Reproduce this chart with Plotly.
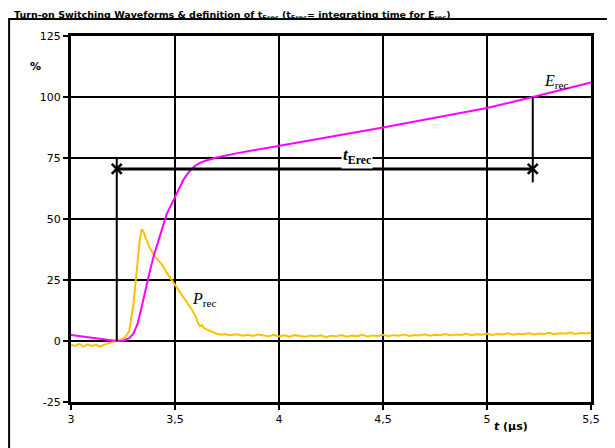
import plotly.graph_objects as go

# time axis in microseconds, values in %
e_t = [3.0, 3.1, 3.2, 3.22, 3.25, 3.28, 3.30, 3.32, 3.34, 3.36, 3.38, 3.40, 3.42, 3.44,
       3.46, 3.48, 3.50, 3.52, 3.54, 3.56, 3.58, 3.60, 3.62, 3.65, 3.70, 3.8, 3.9, 4.0,
       4.25, 4.5, 4.75, 5.0, 5.22, 5.5]
e_rec = [2.5, 1.4, 0.2, 0.0, 0.1, 1.2, 3.0, 7, 14, 22, 29, 35.5, 41, 47,
         52, 55.5, 59, 62.5, 66, 68.5, 70.5, 72, 73, 74, 75.2, 77, 78.5, 80,
         83.5, 87.5, 91.5, 95.5, 100, 106]

p_t = [3.00, 3.02, 3.04, 3.06, 3.08, 3.10, 3.12, 3.14, 3.16, 3.18, 3.20, 3.22, 3.24, 3.26,
       3.28, 3.30, 3.31, 3.32, 3.33, 3.34, 3.35, 3.36, 3.38, 3.40, 3.42, 3.44, 3.46, 3.48,
       3.50, 3.52, 3.54, 3.56, 3.58, 3.60, 3.61, 3.62, 3.63, 3.64, 3.66, 3.68, 3.70, 3.72,
       3.74, 3.76, 3.78, 3.80, 3.825, 3.85, 3.875, 3.90, 3.925, 3.95, 3.975, 4.00, 4.025,
       4.05, 4.075, 4.10, 4.125, 4.15, 4.175, 4.20, 4.225, 4.25, 4.275, 4.30, 4.325, 4.35,
       4.375, 4.40, 4.425, 4.45, 4.475, 4.50, 4.525, 4.55, 4.575, 4.60, 4.625, 4.65, 4.675,
       4.70, 4.725, 4.75, 4.775, 4.80, 4.825, 4.85, 4.875, 4.90, 4.925, 4.95, 4.975, 5.00,
       5.025, 5.05, 5.075, 5.10, 5.125, 5.15, 5.175, 5.20, 5.225, 5.25, 5.275, 5.30, 5.325,
       5.35, 5.375, 5.40, 5.425, 5.45, 5.475, 5.50]
p_rec = [-1.5, -2.0, -1.2, -2.2, -1.4, -2.0, -1.6, -2.3, -1.5, -1.0, -0.3, 0.2, 0.6, 1.5,
         4.0, 15, 24, 33, 41, 45.8, 44.5, 42, 38, 35, 33, 31, 28, 25.5,
         23, 20.5, 18, 16, 13, 10, 7.5, 6.0, 6.5, 5.2, 4.4, 3.5, 3.0, 2.6,
         2.9, 2.4, 2.5, 2.8, 2.2, 2.6, 2.1, 2.7, 2.3, 2.0, 2.5, 1.9, 2.3,
         1.8, 2.4, 2.0, 1.7, 2.2, 1.9, 2.3, 1.6, 2.1, 1.9, 2.4, 1.8, 2.2,
         2.0, 2.5, 1.9, 2.3, 2.1, 2.6, 2.0, 2.4, 2.2, 2.7, 2.1, 2.5, 2.3,
         2.8, 2.2, 2.6, 2.4, 2.9, 2.3, 2.7, 2.5, 3.0, 2.4, 2.8, 2.6, 3.1,
         2.5, 2.9, 2.7, 3.2, 2.6, 3.0, 2.8, 3.3, 2.7, 3.1, 2.9, 3.4, 2.8,
         3.2, 3.0, 3.5, 2.9, 3.3, 3.1, 3.4]

# t_Erec definition: start, end, arrow level
t_start, t_end = 3.22, 5.22
arrow_level = 70.5
left_mark = [0, 75]
right_mark = [65, 100]

x_ticks = [3, 3.5, 4, 4.5, 5, 5.5]
x_labels = ["3", "3,5", "4", "4,5", "5", "5,5"]
y_ticks = [-25, 0, 25, 50, 75, 100, 125]
y_labels = ["-25", "0", "25", "50", "75", "100", "125"]

fig = go.Figure()

fig.add_trace(go.Scatter(x=p_t, y=p_rec, mode="lines",
                         line=dict(color="#FFC000", width=2), showlegend=False))
fig.add_trace(go.Scatter(x=e_t, y=e_rec, mode="lines",
                         line=dict(color="#FF00FF", width=2), showlegend=False))

# vertical marker lines
fig.add_trace(go.Scatter(x=[t_start, t_start], y=left_mark, mode="lines",
                         line=dict(color="black", width=2), showlegend=False))
fig.add_trace(go.Scatter(x=[t_end, t_end], y=right_mark, mode="lines",
                         line=dict(color="black", width=2), showlegend=False))
# horizontal t_Erec line with x markers
fig.add_trace(go.Scatter(x=[t_start, t_end], y=[arrow_level, arrow_level], mode="lines+markers",
                         line=dict(color="black", width=3),
                         marker=dict(symbol="x-thin", size=10, line=dict(color="black", width=2.5)),
                         showlegend=False))

serif = "Liberation Serif"
fig.add_annotation(x=4.375, y=75, xref="x", yref="y",
                   text="<b><i>t</i></b><b><sub>Erec</sub></b>", showarrow=False,
                   font=dict(family=serif, size=17, color="black"),
                   bgcolor="white", borderpad=1, yshift=2)
fig.add_annotation(x=5.33, y=106, text="<i>E</i><sub>rec</sub>", showarrow=False,
                   font=dict(family=serif, size=16, color="black"), yshift=1)
fig.add_annotation(x=3.64, y=17, text="<i>P</i><sub>rec</sub>", showarrow=False,
                   font=dict(family=serif, size=16, color="black"))

# title, axis labels
fig.add_annotation(x=-0.1135, y=1.055, xref="paper", yref="paper", xanchor="left", yanchor="middle",
                   text="<b>Turn-on Switching Waveforms &amp; definition of t<sub>Erec</sub> "
                        "(t<sub>Erec</sub>= integrating time for E<sub>rec</sub>)</b>",
                   showarrow=False, font=dict(family="DejaVu Sans", size=9.5, color="black"))
fig.add_annotation(x=-0.083, y=0.94, xref="paper", yref="paper", text="<b>%</b>",
                   showarrow=False, font=dict(family="DejaVu Sans", size=11, color="black"))
fig.add_annotation(x=0.883, y=-0.09, xref="paper", yref="paper",
                   text="<b><i>t</i> (µs)</b>", showarrow=False,
                   font=dict(family="DejaVu Sans", size=11, color="black"))

# outer frame
fig.add_shape(type="rect", xref="paper", yref="paper", x0=-0.119, x1=1.0365, y0=-0.3, y1=1.0464,
              line=dict(color="black", width=2), layer="below")

fig.update_xaxes(range=[3, 5.5], tickvals=x_ticks, ticktext=x_labels,
                 showgrid=True, gridcolor="black", gridwidth=2,
                 showline=True, linecolor="black", linewidth=3, mirror=True,
                 ticks="outside", ticklen=5, tickwidth=2, tickcolor="black",
                 zeroline=False, tickfont=dict(family="DejaVu Sans", size=11, color="black"))
fig.update_yaxes(range=[-25, 125], tickvals=y_ticks, ticktext=y_labels,
                 showgrid=True, gridcolor="black", gridwidth=2,
                 showline=True, linecolor="black", linewidth=3, mirror=True,
                 ticks="outside", ticklen=5, tickwidth=2, tickcolor="black",
                 zeroline=False, tickfont=dict(family="DejaVu Sans", size=11, color="black"))

# page body has an 8px margin, so the figure is drawn 8px smaller
fig.update_layout(width=607, height=440, margin=dict(l=63, r=24, t=28, b=46),
                  plot_bgcolor="white", paper_bgcolor="white",
                  showlegend=False)

fig.write_html("out.html")
